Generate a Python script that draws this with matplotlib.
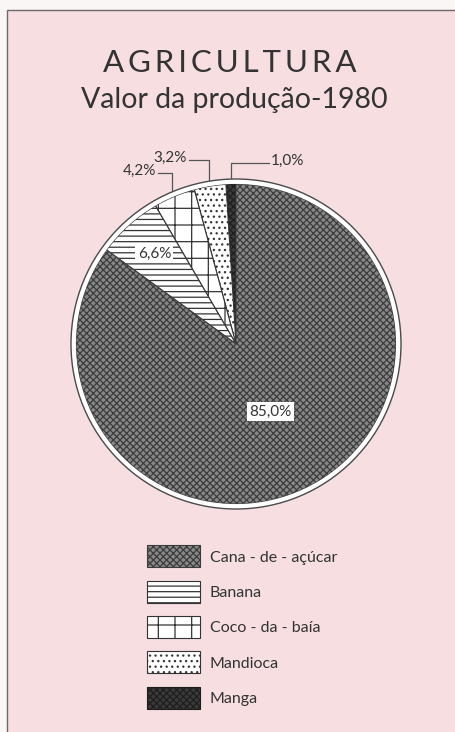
import numpy as np
import matplotlib.pyplot as plt
from matplotlib.patches import Circle, Rectangle

# data
categories = ["Manga", "Mandioca", "Coco - da - baía", "Banana", "Cana - de - açúcar"]
values = [1.0, 3.2, 4.2, 6.6, 85.0]
pct_labels = ["1,0%", "3,2%", "4,2%", "6,6%", "85,0%"]
legend_order = ["Cana - de - açúcar", "Banana", "Coco - da - baía", "Mandioca", "Manga"]

faces = ["#3a3a3a", "white", "white", "white", "#888888"]
edges = ["#1e1e1e", "#333333", "#333333", "#333333", "#3c3c3c"]
hatches = ["xxxxx", "...", "+", "---", "xxxxx"]

plt.rcParams['font.family'] = ['Lato', 'DejaVu Sans']
plt.rcParams['hatch.linewidth'] = 0.9

W, H = 455, 732
fig = plt.figure(figsize=(W / 100, H / 100), dpi=100, facecolor="#fbf6f6")
ax = fig.add_axes([0, 0, 1, 1])

# pink panel with thin frame on left and top
ax.add_patch(Rectangle((7, -10), W + 20, H, facecolor="#f6dee1",
                       edgecolor="#6a6a6a", lw=1.0, zorder=0))

cx, cy, r = 236, H - 344, 160

wedges, _ = ax.pie(values, startangle=90, counterclock=True, center=(cx, cy),
                   radius=r, colors=faces, hatch=hatches,
                   wedgeprops=dict(linewidth=0.8), frame=True)
for w, ec in zip(wedges, edges):
    w.set_edgecolor(ec)
ax.set_xlim(0, W)
ax.set_ylim(0, H)
ax.set_aspect("equal")
ax.axis("off")

# outer white ring and thin line
ax.add_patch(Circle((cx, cy), r + 2.5, fill=False, edgecolor="white", lw=3.5, zorder=5))
ax.add_patch(Circle((cx, cy), r + 5, fill=False, edgecolor="#4a4a4a", lw=1.0, zorder=5))

# mid angles of each slice
bounds = 90 + np.cumsum([0] + values) * 3.6
mids = np.radians((bounds[:-1] + bounds[1:]) / 2)

# leader labels for the three small slices
y_levels = [163, 160, 173]
dxs = [38, -20, -14]
for i in range(3):
    x0 = cx + (r + 6) * np.cos(mids[i])
    y0 = cy + (r + 6) * np.sin(mids[i])
    yl = H - y_levels[i]
    ax.plot([x0, x0, x0 + dxs[i]], [y0, yl, yl], color="#555555", lw=0.9, zorder=6)
    ha = "left" if dxs[i] > 0 else "right"
    ax.text(x0 + dxs[i] + (2 if dxs[i] > 0 else -2), yl + 2, pct_labels[i], ha=ha,
            va="center", fontsize=11, color="#333333", zorder=6)

# labels inside the big slices
for i, frac in [(3, 0.76), (4, 0.475)]:
    tx = cx + r * frac * np.cos(mids[i])
    ty = cy + r * frac * np.sin(mids[i])
    ax.text(tx, ty, pct_labels[i], ha="center", va="center", fontsize=11,
            color="#333333", zorder=7,
            bbox=dict(boxstyle="square,pad=0.15", facecolor="white", edgecolor="none"))

# titles
ax.text(230, H - 63, "A G R I C U L T U R A".replace(" ", "\u2009"), ha="center",
        va="center", fontsize=22.5, color="#333333")
ax.text(234, H - 100, "Valor da produção-1980", ha="center", va="center",
        fontsize=20.5, color="#333333")

# legend
handles = [wedges[categories.index(c)] for c in legend_order]
leg = ax.legend(handles, legend_order, loc="upper left",
                bbox_to_anchor=(133 / W, 1 - 531 / H), frameon=False,
                fontsize=11.5, handlelength=3.3, handleheight=1.75,
                labelspacing=0.83, handletextpad=0.6, labelcolor="#333333")

fig.savefig("out.png", dpi=100, facecolor=fig.get_facecolor())
